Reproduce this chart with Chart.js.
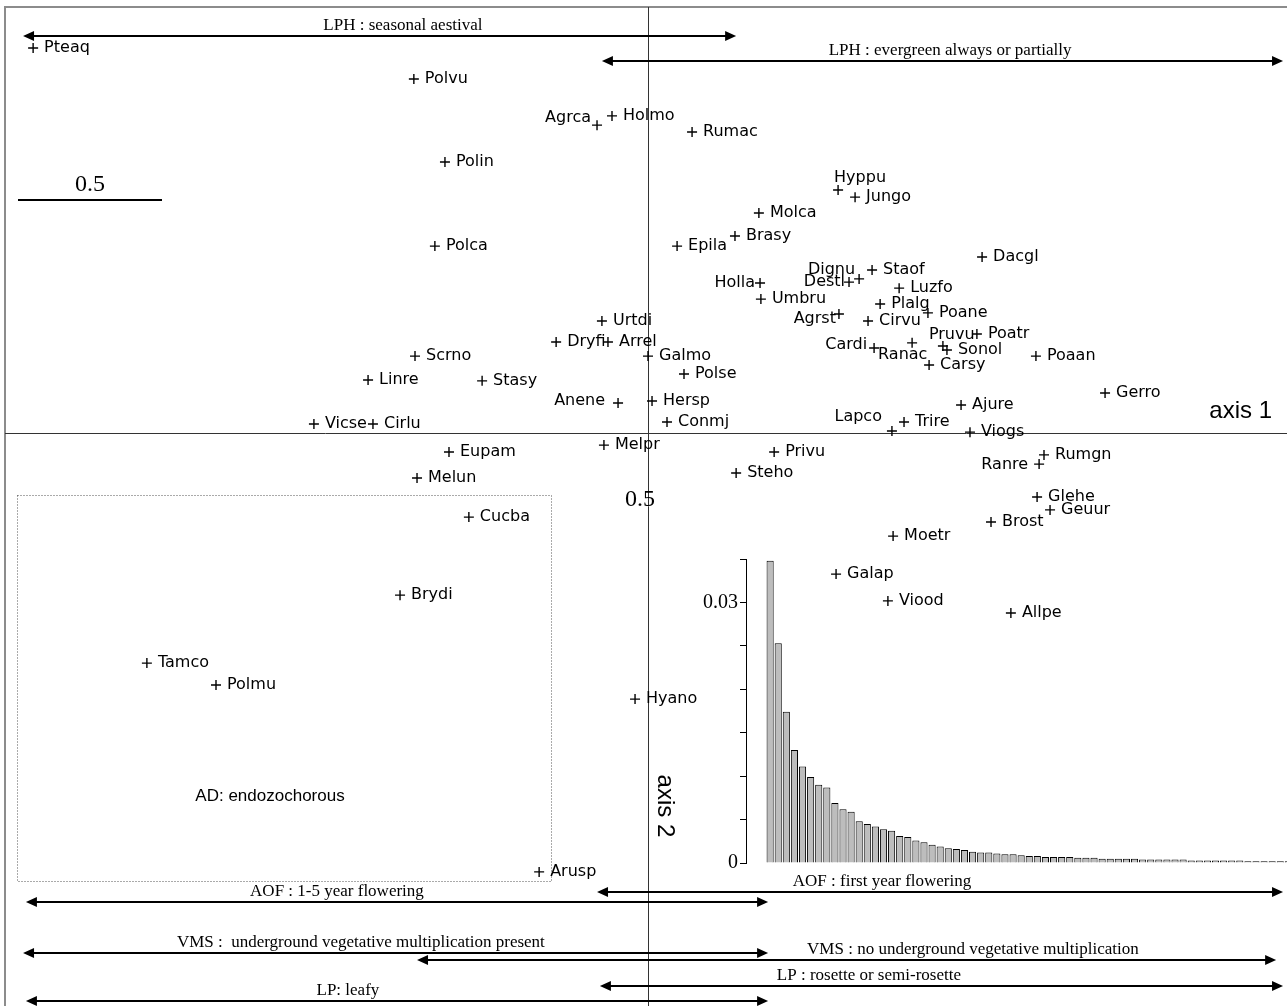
<!DOCTYPE html>
<html>
<head>
<meta charset="utf-8">
<title>Species ordination on trait axes</title>
<script src="https://cdn.jsdelivr.net/npm/chart.js@4.4.1/dist/chart.umd.min.js"></script>
<style>
  html, body { margin: 0; padding: 0; background: #fff; overflow: hidden; }
  #wrap { position: relative; width: 1287px; height: 1006px; }
  #mainChart { position: absolute; left: 0; top: 0; }
  #eigenChart { position: absolute; left: 690px; top: 550px; }
</style>
</head>
<body>
<div id="wrap">
  <canvas id="mainChart" width="1287" height="1006"></canvas>
  <canvas id="eigenChart" width="600" height="320"></canvas>
</div>
<script>
// species scores on the first two axes
var speciesNames = [
  "Pteaq", "Polvu", "Agrca", "Holmo", "Rumac", "Polin", "Hyppu", "Jungo",
  "Molca", "Brasy", "Epila", "Polca", "Dacgl", "Dignu", "Staof", "Holla",
  "Destl", "Luzfo", "Umbru", "Plalg", "Poane", "Agrst", "Cirvu", "Urtdi",
  "Dryfi", "Arrel", "Pruvu", "Poatr", "Cardi", "Ranac", "Sonol", "Carsy",
  "Poaan", "Scrno", "Galmo", "Linre", "Stasy", "Polse", "Gerro", "Anene",
  "Hersp", "Ajure", "Vicse", "Cirlu", "Conmj", "Lapco", "Trire", "Viogs",
  "Eupam", "Melpr", "Privu", "Melun", "Steho", "Ranre", "Rumgn", "Glehe",
  "Geuur", "Brost", "Cucba", "Moetr", "Galap", "Brydi", "Viood", "Allpe",
  "Tamco", "Polmu", "Hyano", "Arusp"
];
var axis1Scores = [
  -2.135, -0.813, -0.177, -0.125, 0.153, -0.705, 0.660, 0.719,
  0.385, 0.302, 0.101, -0.740, 1.160, 0.733, 0.778, 0.389,
  0.698, 0.872, 0.392, 0.806, 0.972, 0.663, 0.764, -0.160,
  -0.319, -0.139, 1.024, 1.142, 0.785, 0.917, 1.038, 0.976,
  1.347, -0.809, 0.000, -0.972, -0.576, 0.125, 1.587, -0.104,
  0.014, 1.087, -1.160, -0.955, 0.066, 0.847, 0.889, 1.118,
  -0.691, -0.153, 0.438, -0.802, 0.306, 1.358, 1.375, 1.351,
  1.396, 1.191, -0.622, 0.851, 0.653, -0.861, 0.833, 1.260,
  -1.740, -1.500, -0.045, -0.378
];
var axis2Scores = [
  1.337, 1.229, 1.069, 1.101, 1.045, 0.941, 0.844, 0.819,
  0.764, 0.684, 0.649, 0.649, 0.611, 0.535, 0.566, 0.521,
  0.524, 0.503, 0.465, 0.448, 0.417, 0.413, 0.389, 0.389,
  0.316, 0.316, 0.302, 0.344, 0.295, 0.313, 0.288, 0.236,
  0.267, 0.267, 0.267, 0.184, 0.181, 0.205, 0.139, 0.104,
  0.111, 0.097, 0.031, 0.031, 0.038, 0.007, 0.038, 0.003,
  -0.066, -0.042, -0.066, -0.156, -0.139, -0.108, -0.076, -0.222,
  -0.267, -0.309, -0.292, -0.358, -0.490, -0.563, -0.583, -0.625,
  -0.799, -0.875, -0.924, -1.524
];

// eigenvalues for the inset
var eigenValues = [
  0.0348, 0.0253, 0.0174, 0.0130, 0.0111, 0.0099, 0.0090, 0.0087,
  0.0069, 0.0062, 0.0059, 0.0048, 0.0045, 0.0042, 0.0039, 0.0037,
  0.0031, 0.0030, 0.0026, 0.0024, 0.0021, 0.0019, 0.0017, 0.0016,
  0.0015, 0.0013, 0.0012, 0.0012, 0.0011, 0.0010, 0.0010, 0.0009,
  0.0008, 0.0008, 0.0007, 0.0007, 0.0007, 0.0007, 0.0006, 0.0006,
  0.0006, 0.0005, 0.0005, 0.0005, 0.0005, 0.0005, 0.0004, 0.0004,
  0.0004, 0.0004, 0.0004, 0.0004, 0.0003, 0.0003, 0.0003, 0.0003,
  0.0003, 0.0003, 0.0003, 0.0002, 0.0002, 0.0002, 0.0002, 0.0002,
  0.0002
];
var eigenTickLabels = [0, 0.03];

// trait modality arrows (axis units)
var traitArrows = [
  { text: "LPH : seasonal aestival", from: -2.170, to: 0.306, y: 1.378, labelAt: -0.851 },
  { text: "LPH : evergreen always or partially", from: -0.160, to: 2.205, y: 1.292, labelAt: 1.049 },
  { text: "AOF : first year flowering", from: -0.177, to: 2.205, y: -1.594, labelAt: 0.8125 },
  { text: "AOF : 1-5 year flowering", from: -2.160, to: 0.417, y: -1.628, labelAt: -1.080 },
  { text: "VMS :  underground vegetative multiplication present", from: -2.170, to: 0.417, y: -1.806, labelAt: -0.997 },
  { text: "VMS : no underground vegetative multiplication", from: -0.802, to: 2.181, y: -1.830, labelAt: 1.128 },
  { text: "LP : rosette or semi-rosette", from: -0.167, to: 2.205, y: -1.920, labelAt: 0.767 },
  { text: "LP: leafy", from: -2.160, to: 0.417, y: -1.972, labelAt: -1.042 }
];

// label placement tweaks: [side, dx, dy] in pixels
var labelPlacement = {
  Agrca: ["left", -6, -7],
  Holla: ["left", -5, 0],
  Destl: ["left", -4, 0],
  Agrst: ["left", -3, 5],
  Cardi: ["left", -7, -3],
  Anene: ["left", -13, -2],
  Ranre: ["left", -11, 1],
  Lapco: ["left", -10, -14],
  Dignu: ["left", -4, -9],
  Hyppu: ["right", -4, -12],
  Pruvu: ["right", -14, -11],
  Ranac: ["right", -34, 12]
};

var ordinationDecor = {
  id: "ordinationDecor",
  beforeDatasetsDraw: function (chart) {
    var ctx = chart.ctx;
    var area = chart.chartArea;
    var xs = chart.scales.x;
    var ys = chart.scales.y;
    function px(v) { return xs.getPixelForValue(v); }
    function py(v) { return ys.getPixelForValue(v); }

    ctx.save();
    // outer frame (left + top)
    ctx.strokeStyle = "#8c8c8c";
    ctx.lineWidth = 2;
    ctx.beginPath();
    ctx.moveTo(area.left + 5, area.bottom);
    ctx.lineTo(area.left + 5, area.top + 7);
    ctx.lineTo(area.right, area.top + 7);
    ctx.stroke();

    // axes through origin
    ctx.strokeStyle = "#333";
    ctx.lineWidth = 1;
    ctx.beginPath();
    ctx.moveTo(Math.round(px(0)) + 0.5, area.top + 7);
    ctx.lineTo(Math.round(px(0)) + 0.5, area.bottom);
    ctx.moveTo(area.left + 5, Math.round(py(0)) + 0.5);
    ctx.lineTo(area.right, Math.round(py(0)) + 0.5);
    ctx.stroke();

    // dotted box for endozochorous group
    ctx.setLineDash([1, 2]);
    ctx.strokeStyle = "#555";
    ctx.strokeRect(Math.round(px(-2.191)) + 0.5, Math.round(py(-0.215)) + 0.5,
      Math.round(px(-0.337) - px(-2.191)), Math.round(py(-1.556) - py(-0.215)));
    ctx.setLineDash([]);

    // scale bar 0.5
    ctx.strokeStyle = "#000";
    ctx.lineWidth = 2;
    ctx.beginPath();
    ctx.moveTo(px(-2.1875), py(0.809));
    ctx.lineTo(px(-1.6875), py(0.809));
    ctx.stroke();

    ctx.fillStyle = "#000";
    ctx.textAlign = "center";
    ctx.textBaseline = "middle";
    ctx.font = "24px 'Liberation Serif', 'Times New Roman', serif";
    ctx.fillText("0.5", px(-1.9375), py(0.861));
    ctx.fillText("0.5", px(-0.028), py(-0.233));

    ctx.font = "24px 'Liberation Sans', Arial, sans-serif";
    ctx.textAlign = "right";
    ctx.fillText("axis 1", px(2.1667), py(0.076));

    ctx.save();
    ctx.translate(px(0.059), py(-1.295));
    ctx.rotate(Math.PI / 2);
    ctx.textAlign = "center";
    ctx.fillText("axis 2", 0, 0);
    ctx.restore();

    ctx.font = "17px 'Liberation Sans', Arial, sans-serif";
    ctx.textAlign = "center";
    ctx.fillText("AD: endozochorous", px(-1.3125), py(-1.260));

    // double headed arrows with their modality labels
    ctx.font = "17px 'Liberation Serif', 'Times New Roman', serif";
    ctx.textBaseline = "bottom";
    traitArrows.forEach(function (a) {
      var x1 = px(a.from), x2 = px(a.to), y = Math.round(py(a.y));
      ctx.strokeStyle = "#000";
      ctx.lineWidth = 2;
      ctx.beginPath();
      ctx.moveTo(x1 + 6, y);
      ctx.lineTo(x2 - 6, y);
      ctx.stroke();
      ctx.beginPath();
      ctx.moveTo(x1, y);
      ctx.lineTo(x1 + 11, y - 5);
      ctx.lineTo(x1 + 11, y + 5);
      ctx.closePath();
      ctx.moveTo(x2, y);
      ctx.lineTo(x2 - 11, y - 5);
      ctx.lineTo(x2 - 11, y + 5);
      ctx.closePath();
      ctx.fill();
      ctx.fillText(a.text, px(a.labelAt), y - 2);
    });
    ctx.restore();
  },
  afterDatasetsDraw: function (chart) {
    var ctx = chart.ctx;
    var meta = chart.getDatasetMeta(0);
    ctx.save();
    ctx.fillStyle = "#000";
    ctx.font = "16px 'DejaVu Sans', sans-serif";
    ctx.textBaseline = "middle";
    meta.data.forEach(function (pt, i) {
      var name = speciesNames[i];
      var place = labelPlacement[name] || ["right", 11, 0];
      ctx.textAlign = place[0] === "left" ? "right" : "left";
      ctx.fillText(name, pt.x + place[1], pt.y + place[2]);
    });
    ctx.restore();
  }
};

var scatterPoints = speciesNames.map(function (name, i) {
  return { x: axis1Scores[i], y: axis2Scores[i] };
});

var ordinationChart = new Chart(document.getElementById("mainChart"), {
  type: "scatter",
  data: {
    datasets: [
      {
        label: "species",
        data: scatterPoints,
        pointStyle: "cross",
        pointRadius: 5,
        pointHoverRadius: 5,
        borderColor: "#000",
        backgroundColor: "#000",
        borderWidth: 1.4,
        clip: false,
      },
    ],
  },
  options: {
    responsive: false,
    animation: false,
    events: [],
    layout: { padding: 0, autoPadding: false },
    scales: {
      x: { type: "linear", display: false, min: -2.25, max: 2.21875 },
      y: { type: "linear", display: false, min: -1.98958, max: 1.50347 },
    },
    plugins: {
      legend: { display: false },
      tooltip: { enabled: false },
    },
  },
  plugins: [ordinationDecor],
});

// inset: eigenvalue bar diagram
var eigenPoints = eigenValues.map(function (v, i) {
  return { x: i + 1, y: v };
});

var eigenChart = new Chart(document.getElementById("eigenChart"), {
  type: "bar",
  data: {
    datasets: [
      {
        label: "eigenvalues",
        data: eigenPoints,
        backgroundColor: "#bdbdbd",
        borderColor: "#000",
        borderWidth: 1,
        categoryPercentage: 1,
        barPercentage: 0.88,
      },
    ],
  },
  options: {
    responsive: false,
    animation: false,
    events: [],
    layout: { padding: { top: 9, bottom: 7, left: 0, right: 0 }, autoPadding: false },
    scales: {
      x: { type: "linear", display: false, offset: false, min: -1.98, max: 65.2 },
      y: {
        min: 0,
        max: 0.035,
        afterFit: function (scale) {
          scale.width = 56;
          scale.paddingTop = 0;
          scale.paddingBottom = 0;
        },
        ticks: {
          stepSize: 0.005,
          padding: 2,
          color: "#000",
          font: { family: "'Liberation Serif', 'Times New Roman', serif", size: 20 },
          callback: function (value) {
            for (var k = 0; k < eigenTickLabels.length; k++) {
              if (Math.abs(value - eigenTickLabels[k]) < 1e-9) return String(eigenTickLabels[k]);
            }
            return "";
          },
        },
        grid: { drawOnChartArea: false, drawTicks: true, tickLength: 6, color: "#000" },
        border: { display: true, color: "#000", width: 1 },
      },
    },
    plugins: {
      legend: { display: false },
      tooltip: { enabled: false },
    },
  },
});
</script>
</body>
</html>
